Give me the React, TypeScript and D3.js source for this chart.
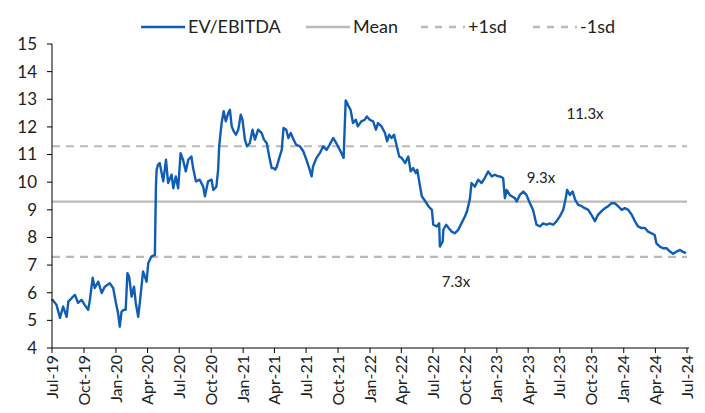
import React from "react";
import * as d3 from "d3";

const series: [string, number][] = [
  ["2019-07-01", 5.7], ["2019-07-03", 5.74], ["2019-07-14", 5.56], ["2019-07-24", 5.09], ["2019-08-02", 5.5],
  ["2019-08-12", 5.13], ["2019-08-17", 5.68], ["2019-08-27", 5.81], ["2019-09-05", 5.92], ["2019-09-14", 5.63],
  ["2019-09-24", 5.74], ["2019-10-03", 5.56], ["2019-10-13", 5.38], ["2019-10-18", 5.74], ["2019-10-26", 6.54],
  ["2019-11-01", 6.17], ["2019-11-11", 6.4], ["2019-11-21", 5.99], ["2019-11-30", 6.22], ["2019-12-14", 6.34],
  ["2019-12-24", 6.17], ["2020-01-01", 5.63], ["2020-01-07", 5.27], ["2020-01-12", 4.77], ["2020-01-17", 5.31],
  ["2020-01-23", 5.38], ["2020-01-29", 5.38], ["2020-02-03", 6.71], ["2020-02-08", 6.58], ["2020-02-15", 5.86],
  ["2020-02-22", 6.22], ["2020-02-27", 5.63], ["2020-03-05", 5.13], ["2020-03-10", 5.68], ["2020-03-19", 6.77],
  ["2020-03-29", 6.4], ["2020-04-03", 7.07], ["2020-04-12", 7.31], ["2020-04-22", 7.37], ["2020-04-25", 9.84],
  ["2020-04-27", 10.45], ["2020-05-01", 10.63], ["2020-05-06", 10.69], ["2020-05-16", 10.03], ["2020-05-24", 10.81],
  ["2020-05-30", 9.97], ["2020-06-09", 10.27], ["2020-06-14", 9.78], ["2020-06-21", 10.21], ["2020-06-28", 9.78],
  ["2020-07-05", 11.05], ["2020-07-12", 10.81], ["2020-07-20", 10.39], ["2020-07-27", 10.81], ["2020-08-05", 10.93],
  ["2020-08-10", 10.51], ["2020-08-18", 10.03], ["2020-08-29", 10.09], ["2020-09-08", 9.84], ["2020-09-13", 9.49],
  ["2020-09-22", 10.03], ["2020-10-02", 10.09], ["2020-10-07", 9.72], ["2020-10-16", 9.84], ["2020-10-21", 10.45],
  ["2020-10-24", 11.3], ["2020-10-31", 12.14], ["2020-11-06", 12.57], ["2020-11-12", 12.2], ["2020-11-19", 12.5],
  ["2020-11-24", 12.62], ["2020-11-29", 12.02], ["2020-12-05", 11.84], ["2020-12-11", 11.72], ["2020-12-18", 11.9],
  ["2020-12-25", 12.44], ["2020-12-30", 12.26], ["2021-01-06", 11.54], ["2021-01-12", 11.3], ["2021-01-20", 11.41],
  ["2021-01-28", 11.9], ["2021-02-04", 11.54], ["2021-02-13", 11.9], ["2021-02-23", 11.78], ["2021-03-02", 11.54],
  ["2021-03-10", 11.41], ["2021-03-17", 10.93], ["2021-03-24", 10.51], ["2021-03-29", 10.51], ["2021-04-03", 10.45],
  ["2021-04-08", 10.57], ["2021-04-15", 10.88], ["2021-04-22", 11.17], ["2021-04-27", 11.96], ["2021-05-05", 11.9],
  ["2021-05-11", 11.6], ["2021-05-18", 11.78], ["2021-05-26", 11.54], ["2021-06-02", 11.36], ["2021-06-13", 11.3],
  ["2021-06-23", 11.12], ["2021-07-02", 10.81], ["2021-07-10", 10.51], ["2021-07-17", 10.21], ["2021-07-21", 10.57],
  ["2021-07-31", 10.88], ["2021-08-10", 11.06], ["2021-08-19", 11.3], ["2021-08-29", 11.17], ["2021-09-07", 11.36],
  ["2021-09-17", 11.6], ["2021-09-26", 11.41], ["2021-10-06", 11.17], ["2021-10-17", 10.88], ["2021-10-23", 12.96],
  ["2021-10-30", 12.78], ["2021-11-06", 12.62], ["2021-11-13", 12.14], ["2021-11-21", 12.26], ["2021-11-27", 12.02],
  ["2021-12-07", 12.2], ["2021-12-17", 12.26], ["2021-12-23", 12.38], ["2021-12-31", 12.26], ["2022-01-10", 12.2],
  ["2022-01-18", 11.9], ["2022-01-24", 12.14], ["2022-02-03", 12.02], ["2022-02-13", 11.78], ["2022-02-19", 11.48],
  ["2022-02-25", 11.72], ["2022-03-04", 11.6], ["2022-03-11", 11.72], ["2022-03-19", 11.3], ["2022-03-26", 10.93],
  ["2022-04-02", 10.88], ["2022-04-12", 10.69], ["2022-04-21", 10.93], ["2022-04-28", 10.39], ["2022-05-05", 10.51],
  ["2022-05-13", 10.33], ["2022-05-17", 10.45], ["2022-05-25", 9.84], ["2022-05-30", 9.49], ["2022-06-09", 9.31],
  ["2022-06-18", 9.13], ["2022-06-28", 9.0], ["2022-07-02", 8.46], ["2022-07-12", 8.4], ["2022-07-19", 8.51],
  ["2022-07-21", 7.67], ["2022-07-29", 7.85], ["2022-07-31", 8.28], ["2022-08-08", 8.46], ["2022-08-15", 8.34],
  ["2022-08-24", 8.21], ["2022-09-02", 8.15], ["2022-09-12", 8.28], ["2022-09-21", 8.51], ["2022-10-01", 8.76],
  ["2022-10-07", 8.95], ["2022-10-15", 9.37], ["2022-10-20", 9.97], ["2022-10-30", 9.84], ["2022-11-08", 10.09],
  ["2022-11-18", 9.97], ["2022-11-27", 10.15], ["2022-12-07", 10.39], ["2022-12-17", 10.21], ["2022-12-26", 10.27],
  ["2023-01-05", 10.21], ["2023-01-09", 10.21], ["2023-01-19", 10.15], ["2023-01-24", 9.42], ["2023-01-29", 9.72],
  ["2023-02-07", 9.54], ["2023-02-22", 9.42], ["2023-02-27", 9.3], ["2023-03-08", 9.54], ["2023-03-18", 9.66],
  ["2023-03-27", 9.54], ["2023-04-06", 9.24], ["2023-04-15", 9.0], ["2023-04-25", 8.46], ["2023-05-05", 8.4],
  ["2023-05-14", 8.51], ["2023-05-24", 8.46], ["2023-06-02", 8.51], ["2023-06-12", 8.46], ["2023-06-22", 8.59],
  ["2023-07-01", 8.76], ["2023-07-11", 9.0], ["2023-07-18", 9.42], ["2023-07-22", 9.72], ["2023-07-30", 9.54],
  ["2023-08-07", 9.66], ["2023-08-14", 9.37], ["2023-08-23", 9.18], ["2023-09-02", 9.13], ["2023-09-11", 9.06],
  ["2023-09-21", 9.0], ["2023-09-30", 8.82], ["2023-10-10", 8.59], ["2023-10-19", 8.82], ["2023-10-29", 8.95],
  ["2023-11-08", 9.06], ["2023-11-17", 9.13], ["2023-11-27", 9.24], ["2023-12-06", 9.24], ["2023-12-16", 9.13],
  ["2023-12-26", 9.0], ["2024-01-04", 9.06], ["2024-01-14", 9.0], ["2024-01-24", 8.82], ["2024-02-02", 8.59],
  ["2024-02-11", 8.4], ["2024-02-21", 8.34], ["2024-03-02", 8.34], ["2024-03-11", 8.21], ["2024-03-21", 8.15],
  ["2024-03-30", 8.09], ["2024-04-04", 7.79], ["2024-04-14", 7.67], ["2024-04-23", 7.61], ["2024-05-03", 7.61],
  ["2024-05-13", 7.49], ["2024-05-22", 7.41], ["2024-06-01", 7.49], ["2024-06-11", 7.55], ["2024-06-18", 7.49],
  ["2024-06-28", 7.43],
];

const MEAN = 9.3;
const SD = 2.0;
const yTicks = [4, 5, 6, 7, 8, 9, 10, 11, 12, 13, 14, 15];
const xStart = "2019-07-01";
const xEnd = "2024-07-01";
const legendItems = ["EV/EBITDA", "Mean", "+1sd", "-1sd"];
const bandLabels = [`${(MEAN + SD).toFixed(1)}x`, `${MEAN.toFixed(1)}x`, `${(MEAN - SD).toFixed(1)}x`];

const BLUE = "#0f5db5";
const GREY = "#bdb9b5";
const FONT = "Lato, 'Open Sans', sans-serif";

export default function App() {
  const W = 705, H = 413;
  const left = 52, right = 687, top = 44, bottom = 348;
  const parse = d3.timeParse("%Y-%m-%d");
  const x = d3.scaleTime().domain([parse(xStart)!, parse(xEnd)!]).range([left, right]);
  const y = d3.scaleLinear().domain([4, 15]).range([bottom, top]);
  const data = series.map(([d, v]) => ({ date: parse(d)!, v }));
  const line = d3.line<{ date: Date; v: number }>().x((d) => x(d.date)).y((d) => y(d.v));
  const xTicks = d3.timeMonth.every(3)!.range(parse(xStart)!, d3.timeDay.offset(parse(xEnd)!, 1));
  const fmt = d3.timeFormat("%b-%y");

  const hlines = [
    { v: MEAN + SD, dash: "8,6" },
    { v: MEAN, dash: undefined },
    { v: MEAN - SD, dash: "8,6" },
  ];

  const legendX = [141, 306, 421, 533];
  const legendStyles = [
    { stroke: BLUE, dash: undefined },
    { stroke: GREY, dash: undefined },
    { stroke: GREY, dash: "7,7" },
    { stroke: GREY, dash: "7,7" },
  ];

  const labelPos = [
    { x: 585, v: MEAN + SD, dy: -33 },
    { x: 541, v: MEAN, dy: -24 },
    { x: 456, v: MEAN - SD, dy: 25 },
  ];

  return (
    <svg width={W} height={H} style={{ position: "absolute", left: 0, top: 0, background: "#fff" }} fontFamily={FONT}>
      {/* Legend */}
      {legendItems.map((t, i) => (
        <g key={t}>
          <line x1={legendX[i]} x2={legendX[i] + 44} y1={27} y2={27} stroke={legendStyles[i].stroke} strokeWidth={2.5} strokeDasharray={legendStyles[i].dash} />
          <text x={legendX[i] + 47} y={33} fontSize={18} fill="#222">{t}</text>
        </g>
      ))}

      {/* Reference lines */}
      {hlines.map((h, i) => (
        <line key={i} x1={left} x2={right} y1={y(h.v)} y2={y(h.v)} stroke={GREY} strokeWidth={2.2} strokeDasharray={h.dash} />
      ))}

      {/* Series */}
      <path d={line(data) || ""} fill="none" stroke={BLUE} strokeWidth={2.4} strokeLinejoin="round" />

      {/* Y axis */}
      <line x1={left} x2={left} y1={top} y2={bottom} stroke="#000" strokeWidth={1} />
      {yTicks.map((t) => (
        <g key={t}>
          <line x1={left - 5} x2={left} y1={y(t)} y2={y(t)} stroke="#000" />
          <text x={left - 15} y={y(t)} dy="0.35em" textAnchor="end" fontSize={17} fill="#222">{t}</text>
        </g>
      ))}

      {/* X axis */}
      <line x1={left} x2={right + 2} y1={bottom} y2={bottom} stroke="#000" strokeWidth={1} />
      {xTicks.map((t, i) => (
        <g key={i} transform={`translate(${x(t)},${bottom})`}>
          <line y1={0} y2={5} stroke="#000" />
          <text transform="rotate(-90)" x={-7} y={0} dy="0.35em" textAnchor="end" fontSize={16} fill="#222">{fmt(t)}</text>
        </g>
      ))}

      {/* Band labels */}
      {labelPos.map((p, i) => (
        <text key={i} x={p.x} y={y(p.v) + p.dy} textAnchor="middle" dy="0.35em" fontSize={15} fill="#222">{bandLabels[i]}</text>
      ))}
    </svg>
  );
}
